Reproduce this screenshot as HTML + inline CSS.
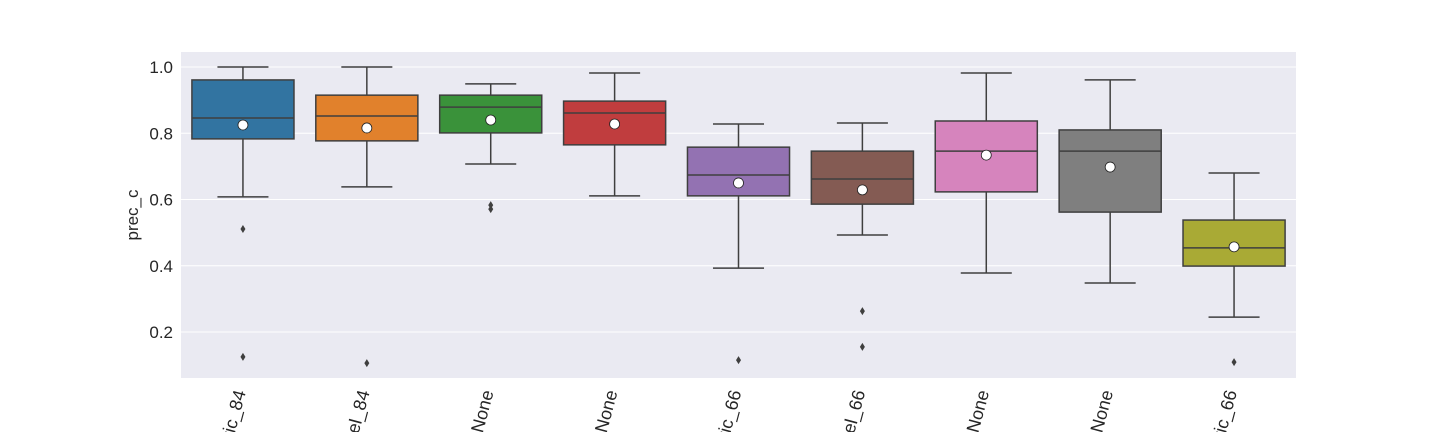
<!DOCTYPE html>
<html><head><meta charset="utf-8">
<style>
html,body{margin:0;padding:0;background:#fff;width:1440px;height:432px;overflow:hidden}
svg{display:block;overflow:hidden;font-family:"Liberation Sans","DejaVu Sans",sans-serif}
</style></head>
<body>
<svg id="chart" width="1440" height="432" viewBox="0 0 1440 432">
<defs><clipPath id="frame"><rect x="0" y="0" width="1440" height="432"/></clipPath></defs>
<g clip-path="url(#frame)">
<rect x="181" y="52" width="1115" height="326" fill="#eaeaf2"/>
<g id="grid"></g>
<g id="yticks"></g>
<g id="boxes"></g>
<g id="xticks"></g>
<text transform="translate(138,215) rotate(-90)" text-anchor="middle" font-size="17" fill="#262626">prec_c</text>
</g>
</svg>
<script>
const categories=["metric_84","model_84","x_None","y_None","metric_66","model_66","z_None","w_None","metric_66"];
const whiskerHigh=[1.0,1.0,0.949,0.982,0.828,0.831,0.982,0.961,0.68];
const q3=[0.961,0.915,0.915,0.897,0.758,0.746,0.837,0.81,0.538];
const medians=[0.846,0.852,0.879,0.861,0.674,0.662,0.746,0.746,0.454];
const q1=[0.783,0.777,0.801,0.765,0.611,0.586,0.623,0.562,0.399];
const whiskerLow=[0.608,0.638,0.707,0.611,0.393,0.493,0.378,0.348,0.245];
const means=[0.825,0.816,0.84,0.828,0.65,0.629,0.734,0.698,0.457];
const outliers=[[0.511,0.125],[0.106],[0.583,0.571],[],[0.115],[0.263,0.155],[],[],[0.109]];
const yTicks=[0.2,0.4,0.6,0.8,1.0];
const colors=["#3274a1","#e1812c","#3a923a","#c03d3e","#9372b2","#845b53","#d684bd","#7f7f7f","#a9aa35"];
const NS="http://www.w3.org/2000/svg";
const left=181,right=1296;
const bw=(right-left)/categories.length;
function y(v){return 67+(1-v)*331.25;}
function x(i){return left+bw*(i+0.5);}
function mk(tag,attrs,parent){const e=document.createElementNS(NS,tag);for(const k in attrs)e.setAttribute(k,attrs[k]);parent.appendChild(e);return e;}
const grid=document.getElementById('grid'),yt=document.getElementById('yticks'),bx=document.getElementById('boxes'),xt=document.getElementById('xticks');
yTicks.forEach(t=>{
  const l=mk('line',{x1:left,x2:right,y1:y(t),y2:y(t),stroke:'#fff','stroke-width':1},grid);
  
  
  const tx=mk('text',{x:173,y:y(t)+6,'text-anchor':'end','font-size':17,fill:'#262626'},yt);
  tx.textContent=t.toFixed(1);
  
  
});
const ec='#3f3f3f';
categories.forEach((c,i)=>{
  const cx=x(i),hw=bw*0.84/2-1,cw=hw/2;
  const g=mk('g',{},bx);
  
  
  mk('line',{x1:cx,x2:cx,y1:y(whiskerHigh[i]),y2:y(q3[i]),stroke:ec,'stroke-width':1.5},g);
  mk('line',{x1:cx,x2:cx,y1:y(q1[i]),y2:y(whiskerLow[i]),stroke:ec,'stroke-width':1.5},g);
  mk('line',{x1:cx-cw,x2:cx+cw,y1:y(whiskerHigh[i]),y2:y(whiskerHigh[i]),stroke:ec,'stroke-width':1.5},g);
  mk('line',{x1:cx-cw,x2:cx+cw,y1:y(whiskerLow[i]),y2:y(whiskerLow[i]),stroke:ec,'stroke-width':1.5},g);
  mk('rect',{x:cx-hw,y:y(q3[i]),width:2*hw,height:y(q1[i])-y(q3[i]),fill:colors[i],stroke:ec,'stroke-width':1.5},g);
  mk('line',{x1:cx-hw,x2:cx+hw,y1:y(medians[i]),y2:y(medians[i]),stroke:ec,'stroke-width':1.5},g);
  const m=mk('circle',{cx:cx,cy:y(means[i]),r:5,fill:'#fff',stroke:'#222','stroke-width':0.8},g);
  
  
  outliers[i].forEach(o=>{
    const oy=y(o);
    const p=mk('path',{d:`M${cx} ${oy-4}L${cx+2.5} ${oy}L${cx} ${oy+4}L${cx-2.5} ${oy}Z`,fill:'#3f3f3f'},g);
    
    
  });
  const t=mk('text',{transform:`translate(${cx+3},392) rotate(-75)`,'text-anchor':'end','font-size':18,fill:'#262626'},xt);
  t.textContent=c;
  
  
});
</script>
</body></html>
